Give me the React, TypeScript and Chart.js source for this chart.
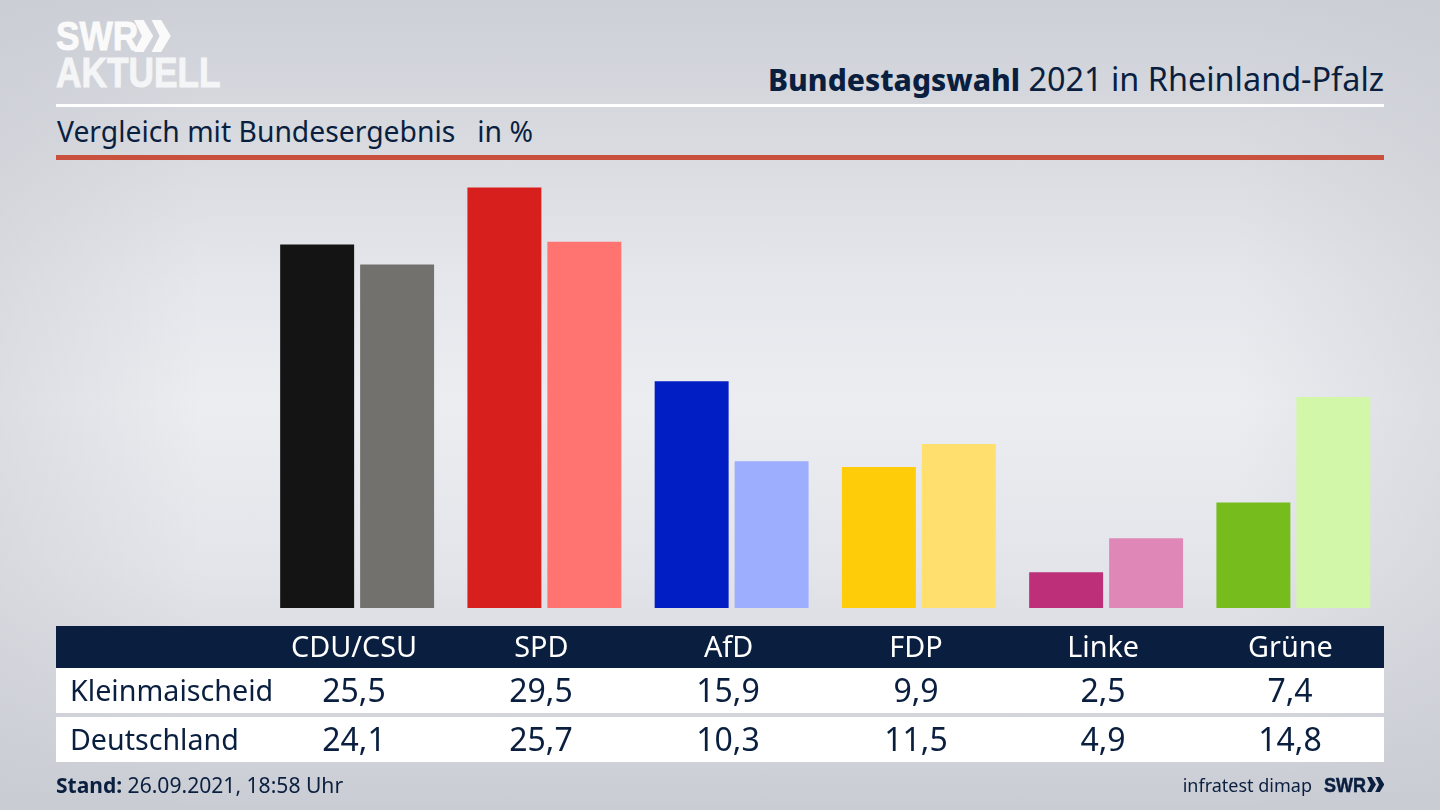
import { FC, CSSProperties, useEffect, useRef } from 'react';
import Chart from 'chart.js/auto';

const parties = ['CDU/CSU', 'SPD', 'AfD', 'FDP', 'Linke', 'Grüne'];
const kleinmaischeid = [25.5, 29.5, 15.9, 9.9, 2.5, 7.4];
const deutschland = [24.1, 25.7, 10.3, 11.5, 4.9, 14.8];
const strongColors = ['#141414', '#d71f1d', '#001ec4', '#ffcc09', '#bd2f78', '#76bc1c'];
const lightColors = ['#72716e', '#ff7371', '#9daeff', '#ffe06f', '#df88b8', '#d3f7a8'];

const NAVY = '#0a1f3f';
const FONT = '"Noto Sans", sans-serif';
const CENTERS = [354, 541, 728, 916, 1103, 1290];

const fmt = (v: number) => v.toFixed(1).replace('.', ',');

const abs = (left: number, top: number, width: number, height: number, background: string): CSSProperties => ({
  position: 'absolute',
  left,
  top,
  width,
  height,
  background,
});

const Txt: FC<{
  x: number;
  y: number;
  size: number;
  align?: 'left' | 'right' | 'center';
  color?: string;
  children: React.ReactNode;
}> = ({ x, y, size, align = 'left', color = NAVY, children }) => {
  const style: CSSProperties = {
    position: 'absolute',
    top: y,
    lineHeight: '40px',
    fontSize: size,
    color,
    fontFamily: FONT,
    whiteSpace: 'pre',
  };
  if (align === 'left') style.left = x;
  if (align === 'right') style.right = 1440 - x;
  if (align === 'center') {
    style.left = x - 100;
    style.width = 200;
    style.textAlign = 'center';
  }
  return <div style={style}>{children}</div>;
};

const Chevrons: FC<{ x: number; y: number; h: number; color: string }> = ({ x, y, h, color }) => (
  <svg style={{ position: 'absolute', left: x, top: y }} width={h * 1.15} height={h} viewBox="0 0 23 20">
    <polygon points="0,0 6,0 12,10 6,20 0,20 5,10" fill={color} />
    <polygon points="11,0 17,0 23,10 17,20 11,20 16,10" fill={color} />
  </svg>
);

const logoText: CSSProperties = {
  position: 'absolute',
  left: 56,
  fontFamily: '"Liberation Sans", sans-serif',
  fontWeight: 700,
  lineHeight: '46px',
  transformOrigin: 'left',
};

const App: FC = () => {
  const chartRef = useRef<HTMLCanvasElement | null>(null);

  useEffect(() => {
    if (!chartRef.current) return;
    const chart = new Chart(chartRef.current, {
      type: 'bar',
      data: {
        labels: parties,
        datasets: [
          {
            label: 'Kleinmaischeid',
            data: kleinmaischeid,
            backgroundColor: strongColors,
            categoryPercentage: 0.854,
            barPercentage: 0.925,
          },
          {
            label: 'Deutschland',
            data: deutschland,
            backgroundColor: lightColors,
            categoryPercentage: 0.854,
            barPercentage: 0.925,
          },
        ],
      },
      options: {
        animation: false,
        responsive: false,
        devicePixelRatio: 1,
        layout: { padding: { left: 263.5, right: 53, top: 180.4, bottom: 0 } },
        plugins: { legend: { display: false }, tooltip: { enabled: false } },
        scales: {
          x: {
            grid: { display: false },
            border: { display: false },
            afterFit: (scale: any) => {
              scale.height = 202;
            },
            ticks: {
              color: '#ffffff',
              padding: 16,
              labelOffset: -3,
              autoSkip: false,
              maxRotation: 0,
              font: { family: FONT, size: 28.8 },
            },
          },
          y: { display: false, min: 0, max: 30 },
        },
      },
    });
    return () => chart.destroy();
  }, []);

  return (
    <div
      style={{
        position: 'fixed',
        left: 0,
        top: 0,
        width: 1440,
        height: 810,
        overflow: 'hidden',
        background:
          'linear-gradient(90deg, rgba(200,203,210,0.45) 0%, rgba(200,203,210,0) 14%, rgba(200,203,210,0) 86%, rgba(200,203,210,0.45) 100%), linear-gradient(180deg, #cdd0d7 0%, #dadce1 20%, #e6e7ec 35%, #ecedf1 50%, #e4e5ea 70%, #c9ccd3 100%)',
      }}
    >
      {/* logo */}
      <div style={{ ...logoText, top: 13, fontSize: 41, color: '#fafafa', transform: 'scaleX(0.86)', WebkitTextStroke: '1px #fafafa' }}>SWR</div>
      <Chevrons x={134} y={20} h={32} color="#fafafa" />
      <div style={{ ...logoText, top: 49, fontSize: 43, color: '#f4f5f6', transform: 'scaleX(0.82)', WebkitTextStroke: '1px #f4f5f6' }}>AKTUELL</div>

      <Txt x={1384} y={58} size={32.4} align="right">
        <span style={{ fontWeight: 800, fontSize: 30 }}>Bundestagswahl</span> 2021 in Rheinland-Pfalz
      </Txt>
      <div style={abs(56, 104, 1328, 3, '#ffffff')} />
      <Txt x={57} y={111} size={28.3}>Vergleich mit Bundesergebnis   in %</Txt>
      <div style={abs(56, 155, 1328, 5, '#c8503c')} />

      {/* table behind the transparent canvas */}
      <div style={abs(56, 626, 1328, 42, NAVY)} />
      <div style={abs(56, 668, 1328, 45, '#ffffff')} />
      <div style={abs(56, 717, 1328, 45, '#ffffff')} />

      <canvas ref={chartRef} width={1440} height={810} style={{ position: 'absolute', left: 0, top: 0 }} />

      <Txt x={70} y={670} size={28.7}>Kleinmaischeid</Txt>
      <Txt x={70} y={719} size={28.6}>Deutschland</Txt>
      {kleinmaischeid.map((v, i) => (
        <Txt key={parties[i]} x={CENTERS[i]} y={670} size={32} align="center">{fmt(v)}</Txt>
      ))}
      {deutschland.map((v, i) => (
        <Txt key={parties[i]} x={CENTERS[i]} y={719} size={32} align="center">{fmt(v)}</Txt>
      ))}

      <Txt x={56} y={765} size={21.1}>
        <span style={{ fontWeight: 700, fontSize: 21 }}>Stand:</span> 26.09.2021, 18:58 Uhr
      </Txt>
      <Txt x={1312} y={765} size={18} align="right">infratest dimap</Txt>
      <div style={{ position: 'absolute', left: 1324, top: 765, fontFamily: '"Liberation Sans", sans-serif', fontWeight: 700, fontSize: 20, lineHeight: '40px', color: NAVY, transform: 'scaleX(0.9)', transformOrigin: 'left', WebkitTextStroke: '0.5px ' + NAVY }}>SWR</div>
      <Chevrons x={1367} y={777} h={15} color={NAVY} />
    </div>
  );
};

export default App;
